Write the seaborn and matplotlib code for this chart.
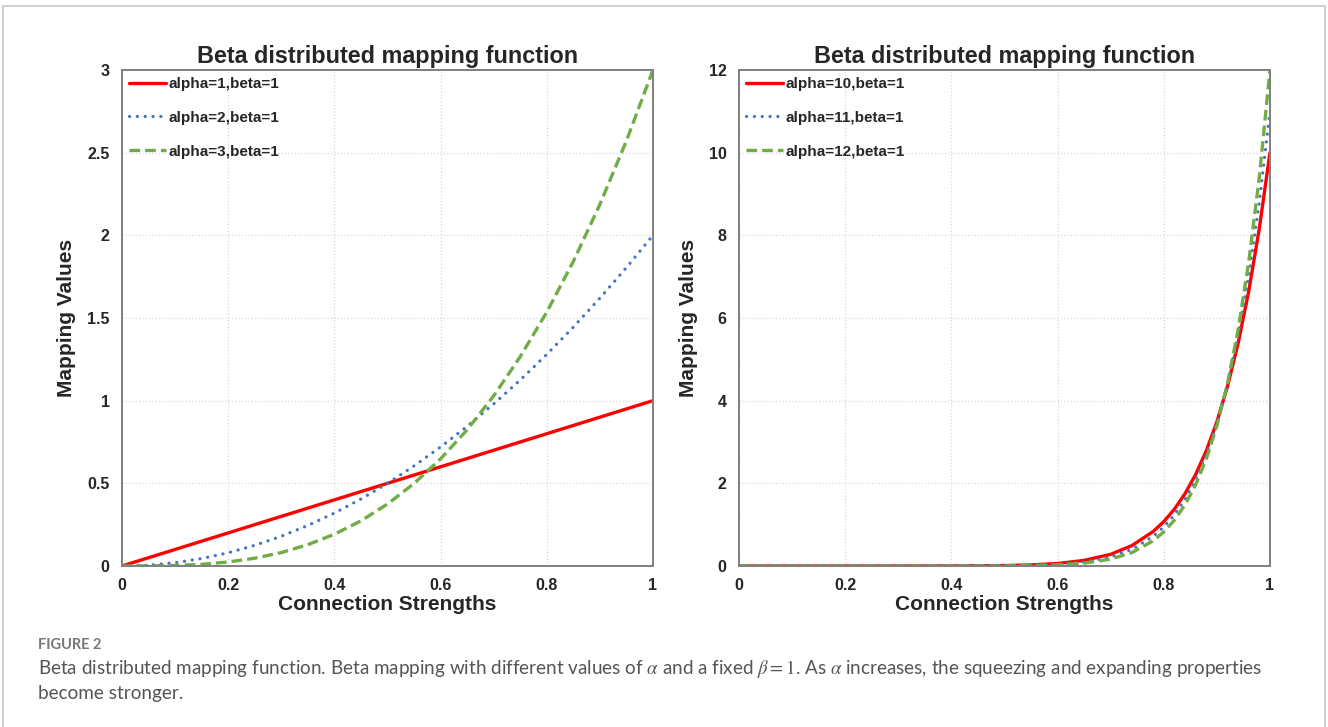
import matplotlib
matplotlib.use("Agg")
import matplotlib.pyplot as plt
import seaborn as sns
import pandas as pd
from matplotlib.patches import Rectangle

# values
x_left = [0, 0.05, 0.1, 0.15, 0.2, 0.25, 0.3, 0.35, 0.4, 0.45, 0.5,
          0.55, 0.6, 0.65, 0.7, 0.75, 0.8, 0.85, 0.9, 0.95, 1.0]
y_a1 = [0, 0.05, 0.1, 0.15, 0.2, 0.25, 0.3, 0.35, 0.4, 0.45, 0.5,
        0.55, 0.6, 0.65, 0.7, 0.75, 0.8, 0.85, 0.9, 0.95, 1.0]
y_a2 = [0, 0.005, 0.02, 0.045, 0.08, 0.125, 0.18, 0.245, 0.32, 0.405, 0.5,
        0.605, 0.72, 0.845, 0.98, 1.125, 1.28, 1.445, 1.62, 1.805, 2.0]
y_a3 = [0, 0.0004, 0.003, 0.010, 0.024, 0.047, 0.081, 0.129, 0.192, 0.273, 0.375,
        0.499, 0.648, 0.824, 1.029, 1.266, 1.536, 1.842, 2.187, 2.572, 3.0]

x_right = [0, 0.1, 0.2, 0.3, 0.4, 0.5, 0.55, 0.6, 0.65, 0.7, 0.74, 0.78, 0.8,
           0.82, 0.84, 0.86, 0.88, 0.9, 0.92, 0.94, 0.96, 0.98, 1.0]
y_a10 = [0, 0, 0, 0, 0.001, 0.010, 0.025, 0.060, 0.135, 0.282, 0.493, 0.834, 1.074,
         1.374, 1.749, 2.213, 2.785, 3.487, 4.344, 5.386, 6.648, 8.171, 10.0]
y_a11 = [0, 0, 0, 0, 0.0005, 0.005, 0.015, 0.040, 0.096, 0.218, 0.401, 0.716, 0.945,
         1.239, 1.616, 2.094, 2.696, 3.452, 4.396, 5.569, 7.020, 8.808, 11.0]
y_a12 = [0, 0, 0, 0, 0.0002, 0.003, 0.009, 0.026, 0.068, 0.166, 0.324, 0.609, 0.825,
         1.109, 1.481, 1.964, 2.588, 3.389, 4.412, 5.711, 7.352, 9.416, 12.0]

left_labels = ["alpha=1,beta=1", "alpha=2,beta=1", "alpha=3,beta=1"]
right_labels = ["alpha=10,beta=1", "alpha=11,beta=1", "alpha=12,beta=1"]

x_ticks = [0, 0.2, 0.4, 0.6, 0.8, 1.0]
x_ticklabels = ["0", "0.2", "0.4", "0.6", "0.8", "1"]
left_yticks = [0, 0.5, 1, 1.5, 2, 2.5, 3]
left_yticklabels = ["0", "0.5", "1", "1.5", "2", "2.5", "3"]
right_yticks = [0, 2, 4, 6, 8, 10, 12]

title = "Beta distributed mapping function"
caption_head = "FIGURE 2"
caption_1 = ("Beta distributed mapping function. Beta mapping with different values of $\\alpha$ "
             "and a fixed $\\beta = 1$. As $\\alpha$ increases, the squeezing and expanding properties")
caption_2 = "become stronger."

sns.set_style("white")
plt.rcParams["font.family"] = ["Liberation Sans", "DejaVu Sans"]
plt.rcParams["mathtext.fontset"] = "stix"

colors = ["#ff0000", "#4472c4", "#70ad47"]
styles = [dict(linestyle="-", linewidth=2.4),
          dict(linestyle=(0, (0.05, 2.4)), linewidth=2.3, dash_capstyle="round"),
          dict(linestyle=(0, (3.2, 1.5)), linewidth=2.4)]

fig = plt.figure(figsize=(13.28, 7.27), dpi=100)
fig.patches.append(Rectangle((0.0025, -0.01), 0.995, 1.002, transform=fig.transFigure,
                             fill=False, edgecolor="#c8c8c8", linewidth=1.2))

ax1 = fig.add_axes([0.0919, 0.2215, 0.3998, 0.6822])
ax2 = fig.add_axes([0.5565, 0.2215, 0.3998, 0.6822])


def draw_panel(ax, xs, series, labels, ymax, yticks, yticklabels):
    for ys, lab, c, st in zip(series, labels, colors, styles):
        df = pd.DataFrame({"x": xs, "y": ys})
        sns.lineplot(data=df, x="x", y="y", ax=ax, color=c, label=lab, **st)
    ax.set_xlim(0, 1)
    ax.set_ylim(0, ymax)
    ax.set_xticks(x_ticks)
    ax.set_xticklabels(x_ticklabels, fontsize=11.5, fontweight="bold")
    ax.set_yticks(yticks)
    ax.set_yticklabels(yticklabels, fontsize=11.5, fontweight="bold")
    ax.tick_params(length=0, pad=9)
    ax.grid(True, color="#d9d9d9", linestyle=":", linewidth=0.9)
    for sp in ax.spines.values():
        sp.set_color("#7f7f7f")
        sp.set_linewidth(1.4)
    ax.set_title(title, fontsize=16.8, fontweight="bold", pad=5)
    ax.set_xlabel("Connection Strengths", fontsize=15, fontweight="bold", labelpad=1)
    ax.set_ylabel("Mapping Values", fontsize=15, fontweight="bold", labelpad=8)
    leg = ax.legend(loc="upper left", frameon=False, fontsize=11, borderpad=0.45,
                    borderaxespad=0.0, handlelength=2.4, handletextpad=0.2,
                    labelspacing=1.3)
    for t in leg.get_texts():
        t.set_fontweight("bold")


draw_panel(ax1, x_left, [y_a1, y_a2, y_a3], left_labels, 3, left_yticks, left_yticklabels)
draw_panel(ax2, x_right, [y_a10, y_a11, y_a12], right_labels, 12, right_yticks,
           [str(v) for v in right_yticks])

cap_font = ["Lato", "DejaVu Sans"]
fig.text(0.0286, 1 - 645 / 727, caption_head, fontsize=10.5, color="#777777",
         family=cap_font, fontweight="bold", va="center")
fig.text(0.0286, 1 - 669 / 727, caption_1, fontsize=13.6, color="#555555",
         family=cap_font, va="center")
fig.text(0.0286, 1 - 693 / 727, caption_2, fontsize=13.6, color="#555555",
         family=cap_font, va="center")

fig.savefig("out.png", dpi=100)
